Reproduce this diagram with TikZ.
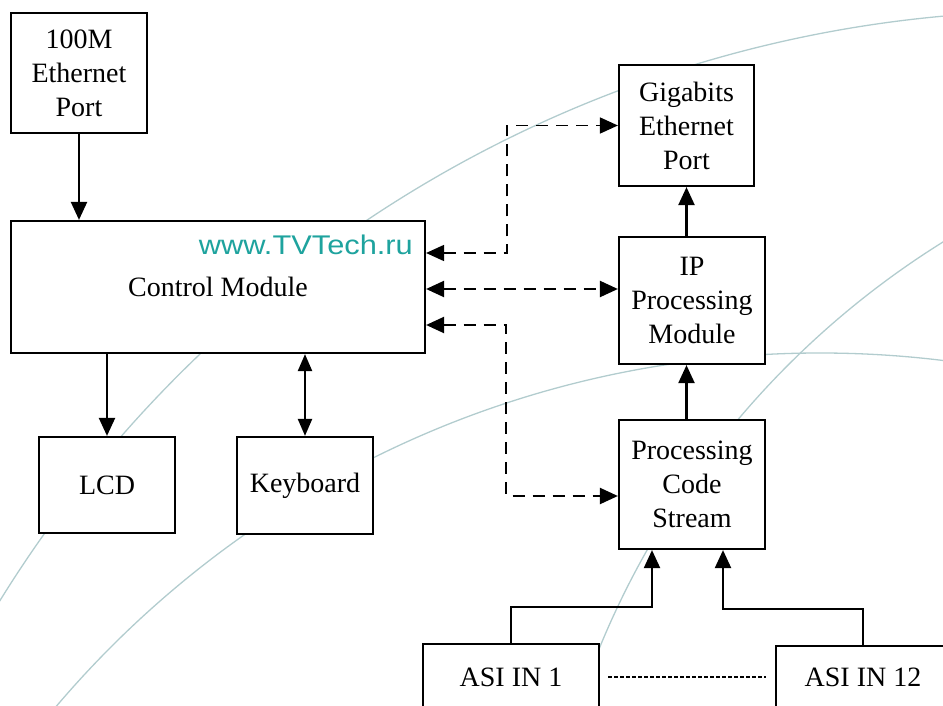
\documentclass[tikz,border=0pt]{standalone}
\usepackage{fontspec}
\setmainfont{Liberation Serif}
\newfontfamily\wmfont{Liberation Sans}
\usetikzlibrary{arrows.meta}
\definecolor{wmteal}{RGB}{30,163,158}
\definecolor{arccol}{RGB}{178,204,206}
\begin{document}
\begin{tikzpicture}[x=1pt,y=-1pt,
 box/.style={draw,line width=2.2pt,fill=white,inner sep=0pt,align=center,font=\fontsize{28}{34}\selectfont},
 arr/.style={line width=2.2pt,-{Triangle[length=18pt,width=16pt]}},
 darr/.style={line width=2.2pt,{Triangle[length=18pt,width=16pt]}-{Triangle[length=18pt,width=16pt]}},
 karr/.style={line width=2.2pt,{Triangle[length=17pt,width=14pt]}-{Triangle[length=17pt,width=14pt]}},
 dsh/.style={darr,dash pattern=on 12pt off 8pt},
 bgarc/.style={arccol,line width=1.3pt},
 dotline/.style={line width=1.6pt,dash pattern=on 4pt off 2pt}]
\useasboundingbox (0,0) rectangle (943,706);
\clip (0,0) rectangle (943,706);
% background arcs
\draw[bgarc] (1057,1253) circle[radius=1242pt];
\draw[bgarc] (1399,976) circle[radius=864pt];
\draw[bgarc] (820,1355) circle[radius=1002pt];
% boxes
\node[box,minimum width=136pt,minimum height=120pt] (eth) at (79,73) {100M\\Ethernet\\Port};
\node[box,minimum width=414pt,minimum height=132pt] (ctrl) at (218,287) {Control Module};
\node[box,minimum width=136pt,minimum height=96pt] (lcd) at (107,485) {LCD};
\node[box,minimum width=136pt,minimum height=97pt] (kbd) at (305,485.5) {Keyboard};
\node[box,minimum width=135pt,minimum height=121pt] (giga) at (686.5,125.5) {Gigabits\\Ethernet\\Port};
\node[box,minimum width=146pt,minimum height=127pt] (ip) at (692,300.5) {IP\\Processing\\Module};
\node[box,minimum width=146pt,minimum height=129pt] (pcs) at (692,484.5) {Processing\\Code\\Stream};
\node[box,minimum width=176pt,minimum height=66pt] (asi1) at (511,677) {ASI IN 1};
\node[box,minimum width=174pt,minimum height=62pt] (asi12) at (863,677) {ASI IN 12};
\node[anchor=base east,inner sep=0pt,text=wmteal,font=\wmfont\fontsize{27}{30}\selectfont] (wm) at (413,254) {\scalebox{1.14}[1]{www.TVTech.ru}};
% connectors
\draw[arr] (eth.south) -- (ctrl.north -| eth.south);
\draw[arr] (ctrl.south -| lcd.north) -- (lcd.north);
\draw[karr] (ctrl.south -| kbd.north) -- (kbd.north);
\draw[arr] (ip.north -| giga.south) -- (giga.south);
\draw[arr] (pcs.north -| giga.south) -- (ip.south -| giga.south);
\draw[arr] (asi1.north) -- ++(0,-36) -| ([xshift=-40pt]pcs.south);
\draw[arr] (asi12.north) -- ++(0,-36) -| ([xshift=31pt]pcs.south);
\draw[dsh,line width=1.7pt] ([yshift=34pt]ctrl.east) -- ++(81,0) |- (giga.west);
\draw[dsh] ([yshift=-2pt]ctrl.east) -- ([yshift=-2pt]ctrl.east -| ip.west);
\draw[dsh] ([yshift=-38pt]ctrl.east) -- ++(80,0) |- ([yshift=-11.5pt]pcs.west);
\draw[dotline] ([xshift=8pt]asi1.east) -- ([xshift=-9pt]asi12.west |- asi1.east);
\end{tikzpicture}
\end{document}
